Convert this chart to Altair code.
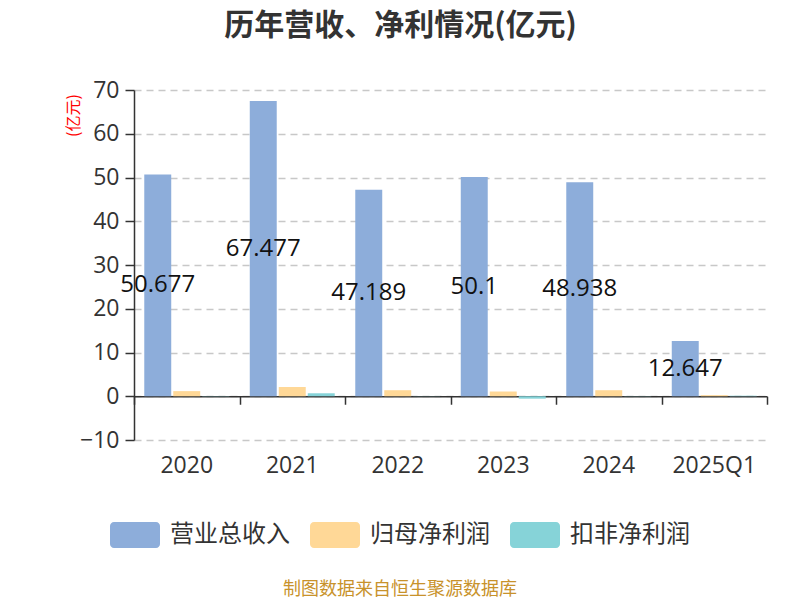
import altair as alt
import pandas as pd

FONT = "Open Sans, Noto Sans CJK SC"
CJK = "Noto Sans CJK SC"

years = ["2020", "2021", "2022", "2023", "2024", "2025Q1"]
series_names = ["营业总收入", "归母净利润", "扣非净利润"]
revenue = [50.677, 67.477, 47.189, 50.1, 48.938, 12.647]
net_profit = [1.17, 2.12, 1.38, 1.08, 1.38, 0.25]
deducted = [0.05, 0.68, 0.03, -0.55, 0.04, 0.12]
revenue_labels = ["50.677", "67.477", "47.189", "50.1", "48.938", "12.647"]
colors = ["#8DADDA", "#FFD897", "#86D3D8"]
y_ticks = [-10, 0, 10, 20, 30, 40, 50, 60, 70]
title_text = "历年营收、净利情况(亿元)"
source_text = "制图数据来自恒生聚源数据库"

rows = []
for i, yr in enumerate(years):
    for s, vals in zip(series_names, [revenue, net_profit, deducted]):
        rows.append({"year": yr, "series": s, "value": vals[i]})
df = pd.DataFrame(rows)

lab = pd.DataFrame({
    "year": years,
    "series": [series_names[0]] * len(years),
    "value": revenue,
    "label": revenue_labels,
})
lab["mid"] = lab["value"] / 2

src = pd.DataFrame({"t": [source_text]})

W, H = 633, 350

xscale = alt.Scale(domain=years, paddingInner=0, paddingOuter=0)
xoff = alt.Scale(domain=series_names, paddingInner=0.07, paddingOuter=0.354)
yscale = alt.Scale(domain=[-10, 70], nice=False, zero=False)

rrect = ("M-0.84,-0.52 L0.84,-0.52 A0.16,0.16 0 0 1 1,-0.36 L1,0.36 "
         "A0.16,0.16 0 0 1 0.84,0.52 L-0.84,0.52 A0.16,0.16 0 0 1 -1,0.36 "
         "L-1,-0.36 A0.16,0.16 0 0 1 -0.84,-0.52 Z")

bars = alt.Chart(df).mark_bar().encode(
    x=alt.X("year:N", scale=xscale, sort=years,
            axis=alt.Axis(title=None, domain=False, ticks=False, labelAngle=0,
                          labelFontSize=23, labelColor="#333", labelPadding=14,
                          labelFont=FONT, grid=False)),
    xOffset=alt.XOffset("series:N", scale=xoff, sort=series_names),
    y=alt.Y("value:Q", scale=yscale,
            axis=alt.Axis(title="(亿元)", values=y_ticks, grid=True,
                          gridDash=[7, 5], gridColor="#c8c8c8", gridWidth=1.3,
                          domainColor="#333", domainWidth=1.5,
                          tickColor="#333", tickSize=9, tickWidth=1.5,
                          labelFontSize=23, labelColor="#333", labelPadding=6,
                          labelFont=FONT,
                          titleColor="red", titleFontSize=16, titleFontWeight="normal",
                          titleFont=CJK, titleX=-61, titleY=25, titleAngle=-90,
                          titleAlign="center", titleBaseline="middle")),
    color=alt.Color("series:N", sort=series_names,
                    scale=alt.Scale(domain=series_names, range=colors),
                    legend=alt.Legend(title=None, orient="none", direction="horizontal",
                                      legendX=-24, legendY=420,
                                      symbolType=rrect, symbolSize=2500,
                                      symbolStrokeWidth=0, symbolOpacity=1,
                                      labelFontSize=24, labelColor="#333",
                                      labelFont=CJK, labelOffset=10,
                                      columnPadding=20, padding=0)),
)

texts = alt.Chart(lab).mark_text(fontSize=24, color="#111", font=FONT).encode(
    x=alt.X("year:N", scale=xscale, sort=years, axis=None),
    xOffset=alt.XOffset("series:N", scale=xoff, sort=series_names),
    y=alt.Y("mid:Q", scale=yscale, axis=None),
    text="label:N",
)

zero_axis = alt.Chart(df).mark_point(opacity=0).encode(
    x=alt.X("year:N", scale=xscale, sort=years,
            axis=alt.Axis(orient="bottom", title=None, labels=False, grid=False,
                          offset=-43.75,
                          domain=True, domainColor="#333", domainWidth=1.5,
                          ticks=True, tickBand="extent", tickSize=8,
                          tickColor="#333", tickWidth=1.5)),
    y=alt.Y("value:Q", scale=yscale, axis=None),
)

source = alt.Chart(src).mark_text(fontSize=18, color="#C8922B", font=CJK).encode(
    x=alt.value(266), y=alt.value(500), text="t:N",
)

chart = alt.layer(bars, texts, zero_axis, source).resolve_axis(
    x="independent", y="independent"
).properties(
    width=W, height=H,
    autosize=alt.AutoSizeParams(type="none"),
    padding={"left": 126, "top": 82, "right": 25, "bottom": 160},
    title=alt.TitleParams(title_text, fontSize=30, fontWeight="bold", color="#333",
                          anchor="middle", dx=-50, offset=38, font=CJK),
).configure_view(stroke=None)

chart.save("out.html", embed_options={"renderer": "svg", "actions": False})
